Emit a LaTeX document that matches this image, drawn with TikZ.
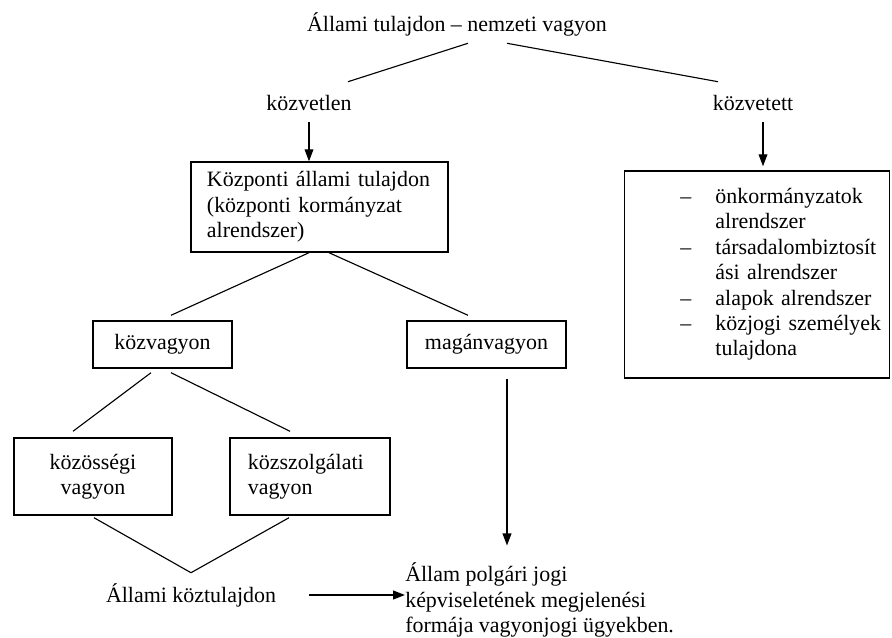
\documentclass[tikz,border=0pt]{standalone}
\usepackage{fontspec}
\setmainfont{Liberation Serif}
\usetikzlibrary{arrows.meta,calc}

\tikzset{
  doboz/.style={draw, line width=1pt, inner sep=0pt},
  felirat/.style={inner sep=0pt, text height=0.4cm, text depth=0.125cm},
  vonal/.style={line width=0.8pt},
  nyil/.style={line width=0.8pt, -{Triangle[length=0.3cm,width=0.22cm]}}
}

\begin{document}
\begin{tikzpicture}[x=0.025cm,y=-0.025cm,font=\fontsize{15.6pt}{18.1pt}\selectfont]
\useasboundingbox (0,0) rectangle (892,637);
\node[felirat] (cim) at (457,26) {Állami tulajdon – nemzeti vagyon};
\node[felirat] (kozvetlen) at (309,105) {közvetlen};
\node[felirat] (kozvetett) at (753,105) {közvetett};
\node[doboz, minimum width=6.425cm, minimum height=2.25cm, inner xsep=0.4cm, text width=5.625cm, align=left] (kozponti) at (319.5,207) {Központi állami tulajdon\\(központi kormányzat\\alrendszer)};
\node[doboz, minimum width=6.625cm, minimum height=5.175cm, inner xsep=0.25cm, text width=6.125cm, align=left] (alrendszerek) at (757,274.5) {%
\begin{tabular}{@{\hspace{1.15cm}}l@{\hspace{0.6cm}}l@{}}
– & önkormányzatok\\
  & alrendszer\\
– & társadalombiztosít\\
  & ási alrendszer\\
– & alapok alrendszer\\
– & közjogi személyek\\
  & tulajdona
\end{tabular}};
\node[doboz, minimum width=3.475cm, minimum height=1.175cm] (kozvagyon) at (162.5,344.5) {közvagyon};
\node[doboz, minimum width=3.975cm, minimum height=1.175cm] (maganvagyon) at (486.5,344.5) {magánvagyon};
\node[doboz, minimum width=3.95cm, minimum height=1.925cm, align=center] (kozossegi) at (93,476.5) {közösségi\\vagyon};
\node[doboz, minimum width=4cm, minimum height=1.925cm, inner xsep=0.45cm, text width=3.1cm, align=left] (kozszolgalati) at (310,476.5) {közszolgálati\\vagyon};
\node[felirat] (koztulajdon) at (191,597) {Állami köztulajdon};
\node[inner sep=0pt, align=left, anchor=west] (polgari) at (405,600) {Állam polgári jogi\\képviseletének megjelenési\\formája vagyonjogi ügyekben.};

\draw[vonal] ($(cim.south)+(11,6.5)$) -- ($(kozvetlen.north)+(39,-12.5)$);
\draw[vonal] ($(cim.south)+(50,6.5)$) -- ($(kozvetett.north)+(-35,-12.5)$);
\draw[nyil] ($(kozvetlen.south)+(0,6.5)$) -- (kozvetlen.south |- kozponti.north);
\draw[nyil] ($(kozvetett.south)+(10,6.5)$) -- ($(kozvetett.south |- alrendszerek.north)+(10,-4)$);
\draw[vonal] ($(kozponti.south)+(-10.5,0)$) -- ($(kozvagyon.north)+(8.5,-5)$);
\draw[vonal] ($(kozponti.south)+(9.5,0)$) -- ($(maganvagyon.north)+(-18.5,-5)$);
\draw[vonal] ($(kozvagyon.south)+(-11.5,4)$) -- ($(kozossegi.north)+(-20,-6)$);
\draw[vonal] ($(kozvagyon.south)+(8.5,4)$) -- ($(kozszolgalati.north)+(-20,-6)$);
\draw[vonal] ($(kozossegi.south)+(1,2)$) -- ($(koztulajdon.north)+(0,-13.5)$);
\draw[vonal] ($(kozszolgalati.south)+(-21,2)$) -- ($(koztulajdon.north)+(0,-13.5)$);
\draw[nyil] ($(maganvagyon.south)+(20.5,10)$) -- ($(maganvagyon.south |- polgari.north)+(20.5,-17)$);
\draw[nyil, line width=1.3pt] ($(koztulajdon.east)+(33,-2)$) -- ($(polgari.west)+(0,-5)$);
\end{tikzpicture}
\end{document}
